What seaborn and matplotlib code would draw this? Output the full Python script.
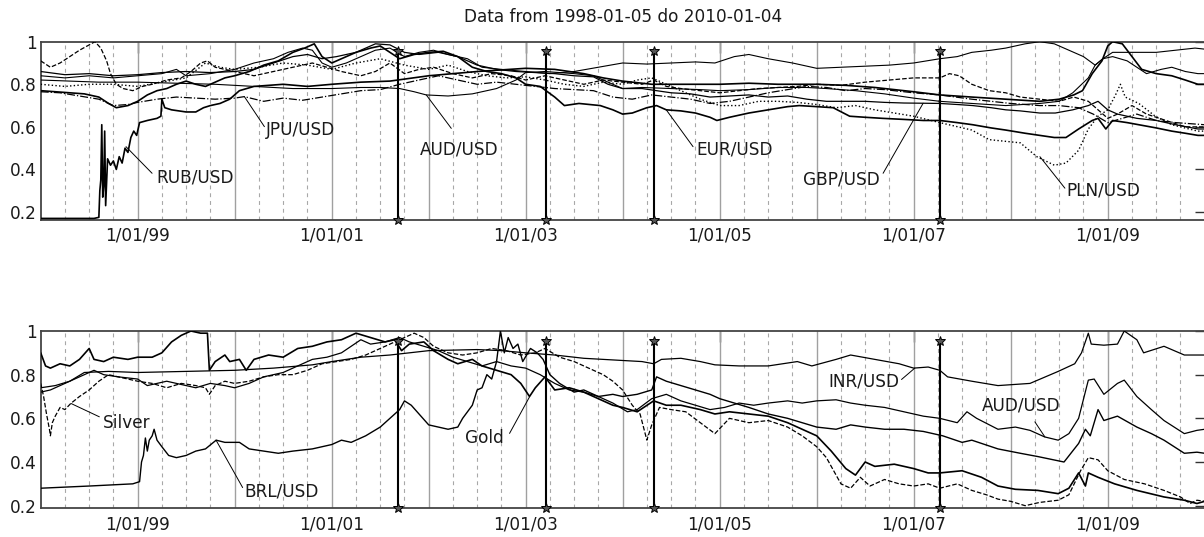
import numpy as np
import pandas as pd
import matplotlib
matplotlib.use("Agg")
import matplotlib.pyplot as plt
import seaborn as sns

sns.set_theme(style="white")
plt.rcParams["font.family"] = ["DejaVu Sans"]

# ---------------- data (decimal years, normalised values) ----------------
rub_t = [1998.0, 1998.55, 1998.6, 1998.61, 1998.62, 1998.63, 1998.64, 1998.65, 1998.66, 1998.67,
         1998.69, 1998.72, 1998.75, 1998.78, 1998.81, 1998.84, 1998.87, 1998.9, 1998.93, 1998.96,
         1998.99, 1999.02, 1999.1, 1999.2, 1999.24, 1999.25, 1999.28, 1999.35, 1999.5, 1999.6,
         1999.68, 1999.75, 1999.85, 1999.95, 2000.05, 2000.2, 2000.5, 2000.75, 2001.0, 2001.3,
         2001.6, 2002.0, 2002.5, 2003.0, 2003.3, 2003.6, 2003.8, 2004.0, 2004.3, 2004.6,
         2005.0, 2005.3, 2005.6, 2006.0, 2006.3, 2006.6, 2007.0, 2007.27, 2007.6, 2007.95,
         2008.3, 2008.5, 2008.65, 2008.74, 2008.84, 2008.94, 2009.0, 2009.05, 2009.15, 2009.25,
         2009.35, 2009.5, 2009.66, 2009.8, 2009.93, 2010.0]
rub_v = [0.17, 0.17, 0.175, 0.30, 0.35, 0.61, 0.27, 0.32, 0.58, 0.23,
         0.45, 0.42, 0.44, 0.40, 0.46, 0.43, 0.50, 0.48, 0.55, 0.58,
         0.56, 0.62, 0.63, 0.64, 0.65, 0.73, 0.69, 0.68, 0.67, 0.67,
         0.69, 0.70, 0.71, 0.73, 0.77, 0.79, 0.80, 0.79, 0.80, 0.81,
         0.815, 0.84, 0.86, 0.875, 0.87, 0.85, 0.83, 0.815, 0.80, 0.80,
         0.80, 0.805, 0.80, 0.80, 0.795, 0.785, 0.765, 0.75, 0.74, 0.73,
         0.72, 0.73, 0.75, 0.77, 0.85, 0.91, 0.98, 1.0, 0.99, 0.93,
         0.87, 0.85, 0.84, 0.82, 0.80, 0.80]

jpy_t = [1998.0, 1998.2, 1998.4, 1998.6, 1998.75, 1998.9, 1999.0, 1999.2, 1999.4, 1999.6,
         1999.8, 2000.0, 2000.1, 2000.3, 2000.5, 2000.7, 2000.9, 2001.1, 2001.3, 2001.5,
         2001.7, 2001.9, 2002.1, 2002.3, 2002.5, 2002.7, 2002.9, 2003.1, 2003.3, 2003.5,
         2003.7, 2003.9, 2004.1, 2004.3, 2004.5, 2004.7, 2004.9, 2005.1, 2005.3, 2005.5,
         2005.7, 2005.9, 2006.1, 2006.3, 2006.5, 2006.7, 2007.0, 2007.27, 2007.6, 2008.0,
         2008.3, 2008.5, 2008.7, 2008.85, 2009.0, 2009.15, 2009.3, 2009.5, 2009.7, 2010.0]
jpy_v = [0.765, 0.76, 0.745, 0.73, 0.70, 0.705, 0.715, 0.73, 0.74, 0.735,
         0.73, 0.735, 0.742, 0.72, 0.735, 0.725, 0.74, 0.755, 0.77, 0.775,
         0.80, 0.82, 0.84, 0.82, 0.80, 0.81, 0.80, 0.79, 0.78, 0.775,
         0.77, 0.74, 0.73, 0.75, 0.74, 0.73, 0.71, 0.72, 0.74, 0.76,
         0.775, 0.79, 0.785, 0.77, 0.78, 0.775, 0.76, 0.75, 0.73, 0.71,
         0.70, 0.70, 0.69, 0.66, 0.62, 0.64, 0.66, 0.63, 0.62, 0.61]

aud_t = [1998.0, 1998.3, 1998.6, 1999.0, 1999.4, 1999.8, 2000.2, 2000.6, 2001.0, 2001.3,
         2001.5, 2001.7, 2001.85, 2001.975, 2002.2, 2002.45, 2002.7, 2002.9, 2003.0, 2003.2,
         2003.5, 2003.7, 2003.85, 2004.0, 2004.2, 2004.5, 2004.8, 2005.0, 2005.3, 2005.6,
         2005.9, 2006.1, 2006.4, 2006.7, 2007.0, 2007.27, 2007.6, 2007.95, 2008.3, 2008.5,
         2008.64, 2008.8, 2008.87, 2008.95, 2009.05, 2009.2, 2009.4, 2009.55, 2009.66, 2009.8,
         2009.93, 2010.0]
aud_v = [0.82, 0.815, 0.81, 0.81, 0.805, 0.80, 0.79, 0.78, 0.78, 0.785,
         0.785, 0.78, 0.765, 0.75, 0.745, 0.755, 0.78, 0.82, 0.855, 0.86,
         0.85, 0.84, 0.81, 0.78, 0.785, 0.78, 0.775, 0.77, 0.775, 0.785,
         0.785, 0.78, 0.77, 0.755, 0.735, 0.72, 0.71, 0.70, 0.71, 0.72,
         0.76, 0.83, 0.89, 0.92, 0.93, 0.91, 0.85, 0.87, 0.88, 0.86,
         0.85, 0.85]

eur_t = [1998.0, 1998.15, 1998.3, 1998.45, 1998.6, 1998.7, 1998.78, 1998.9, 1999.0, 1999.1,
         1999.2, 1999.3, 1999.4, 1999.5, 1999.6, 1999.7, 1999.8, 1999.9, 2000.0, 2000.15,
         2000.3, 2000.45, 2000.6, 2000.72, 2000.82, 2000.9, 2001.0, 2001.1, 2001.25, 2001.4,
         2001.5, 2001.6, 2001.7, 2001.85, 2002.0, 2002.15, 2002.3, 2002.45, 2002.6, 2002.75,
         2002.9, 2003.0, 2003.15, 2003.3, 2003.4, 2003.55, 2003.77, 2003.9, 2004.0, 2004.1,
         2004.25, 2004.35, 2004.45, 2004.6, 2004.75, 2004.9, 2004.97, 2005.1, 2005.3, 2005.5,
         2005.7, 2005.82, 2006.0, 2006.17, 2006.34, 2006.5, 2006.68, 2006.9, 2007.1, 2007.27,
         2007.45, 2007.61, 2007.8, 2007.95, 2008.15, 2008.3, 2008.45, 2008.57, 2008.7, 2008.84,
         2008.9, 2008.98, 2009.05, 2009.2, 2009.32, 2009.5, 2009.66, 2009.8, 2009.93, 2010.0]
eur_v = [0.77, 0.765, 0.76, 0.755, 0.74, 0.71, 0.69, 0.70, 0.72, 0.75,
         0.77, 0.78, 0.80, 0.815, 0.80, 0.79, 0.81, 0.83, 0.84, 0.86,
         0.89, 0.91, 0.95, 0.97, 0.99, 0.93, 0.90, 0.92, 0.95, 0.97,
         0.98, 0.95, 0.92, 0.94, 0.95, 0.955, 0.93, 0.88, 0.86, 0.85,
         0.83, 0.80, 0.79, 0.74, 0.70, 0.71, 0.70, 0.68, 0.66, 0.665,
         0.69, 0.70, 0.68, 0.675, 0.665, 0.645, 0.63, 0.645, 0.665, 0.68,
         0.695, 0.70, 0.695, 0.69, 0.65, 0.645, 0.64, 0.635, 0.63, 0.63,
         0.62, 0.61, 0.595, 0.585, 0.57, 0.56, 0.55, 0.55, 0.59, 0.63,
         0.64, 0.59, 0.63, 0.62, 0.61, 0.595, 0.58, 0.57, 0.56, 0.56]

gbp_t = [1998.0, 1998.25, 1998.5, 1998.75, 1999.0, 1999.25, 1999.5, 1999.75, 2000.0, 2000.2,
         2000.4, 2000.6, 2000.75, 2000.9, 2001.05, 2001.25, 2001.45, 2001.6, 2001.75, 2001.9,
         2002.1, 2002.3, 2002.5, 2002.7, 2002.9, 2003.1, 2003.3, 2003.5, 2003.7, 2003.85,
         2004.0, 2004.2, 2004.35, 2004.5, 2004.7, 2004.9, 2005.1, 2005.3, 2005.5, 2005.7,
         2005.9, 2006.1, 2006.3, 2006.5, 2006.7, 2006.9, 2007.1, 2007.27, 2007.45, 2007.61,
         2007.8, 2007.95, 2008.1, 2008.3, 2008.46, 2008.64, 2008.8, 2008.9, 2009.0, 2009.1,
         2009.3, 2009.5, 2009.7, 2009.93, 2010.0]
gbp_v = [0.86, 0.845, 0.85, 0.84, 0.845, 0.855, 0.86, 0.855, 0.86, 0.87,
         0.90, 0.93, 0.94, 0.92, 0.93, 0.95, 0.99, 0.985, 0.95, 0.94,
         0.95, 0.93, 0.89, 0.87, 0.86, 0.855, 0.85, 0.84, 0.835, 0.80,
         0.78, 0.78, 0.77, 0.76, 0.755, 0.74, 0.745, 0.75, 0.74, 0.745,
         0.73, 0.72, 0.72, 0.72, 0.715, 0.712, 0.711, 0.71, 0.705, 0.70,
         0.69, 0.68, 0.675, 0.665, 0.665, 0.68, 0.70, 0.72, 0.68, 0.66,
         0.64, 0.63, 0.61, 0.59, 0.59]

pln_t = [1998.0, 1998.25, 1998.5, 1998.75, 1999.0, 1999.25, 1999.5, 1999.7, 1999.85, 2000.0,
         2000.25, 2000.5, 2000.75, 2001.0, 2001.25, 2001.5, 2001.75, 2002.0, 2002.2, 2002.4,
         2002.6, 2002.8, 2003.0, 2003.2, 2003.4, 2003.6, 2003.8, 2004.0, 2004.15, 2004.3,
         2004.45, 2004.6, 2004.8, 2005.0, 2005.2, 2005.4, 2005.6, 2005.8, 2006.0, 2006.2,
         2006.4, 2006.6, 2006.8, 2007.0, 2007.27, 2007.6, 2007.78, 2008.1, 2008.27, 2008.45,
         2008.57, 2008.7, 2008.8, 2008.9, 2009.0, 2009.08, 2009.13, 2009.18, 2009.32, 2009.49,
         2009.66, 2009.93, 2010.0]
pln_v = [0.80, 0.79, 0.80, 0.80, 0.79, 0.81, 0.83, 0.90, 0.88, 0.87,
         0.88, 0.90, 0.89, 0.87, 0.90, 0.92, 0.89, 0.87, 0.89, 0.86,
         0.84, 0.83, 0.835, 0.82, 0.80, 0.79, 0.81, 0.80, 0.82, 0.83,
         0.80, 0.77, 0.73, 0.70, 0.70, 0.72, 0.72, 0.715, 0.705, 0.69,
         0.70, 0.68, 0.665, 0.65, 0.62, 0.585, 0.54, 0.525, 0.46, 0.42,
         0.43, 0.49, 0.59, 0.65, 0.68, 0.75, 0.80, 0.74, 0.71, 0.65,
         0.61, 0.58, 0.58]

upper_t = [1998.0, 1998.25, 1998.5, 1998.75, 1999.0, 1999.25, 1999.4, 1999.5, 1999.75, 2000.0,
           2000.2, 2000.4, 2000.55, 2000.7, 2000.8, 2000.9, 2001.0, 2001.15, 2001.3, 2001.45,
           2001.6, 2001.75, 2001.9, 2002.05, 2002.2, 2002.4, 2002.55, 2002.75, 2003.0, 2003.25,
           2003.5, 2003.75, 2004.0, 2004.25, 2004.5, 2004.75, 2004.95, 2005.15, 2005.3, 2005.5,
           2005.75, 2006.0, 2006.25, 2006.5, 2006.75, 2007.0, 2007.27, 2007.45, 2007.6, 2007.8,
           2007.95, 2008.15, 2008.3, 2008.45, 2008.6, 2008.75, 2008.87, 2008.95, 2009.05, 2009.3,
           2009.5, 2009.7, 2009.9, 2010.0]
upper_v = [0.84, 0.83, 0.84, 0.83, 0.84, 0.85, 0.87, 0.84, 0.85, 0.87,
           0.90, 0.92, 0.95, 0.97, 0.96, 0.90, 0.88, 0.90, 0.93, 0.96,
           0.97, 0.93, 0.95, 0.96, 0.94, 0.92, 0.88, 0.87, 0.86, 0.85,
           0.86, 0.88, 0.90, 0.895, 0.90, 0.905, 0.90, 0.93, 0.94, 0.92,
           0.90, 0.875, 0.88, 0.885, 0.89, 0.90, 0.92, 0.93, 0.95, 0.96,
           0.97, 0.99, 1.0, 0.99, 0.96, 0.93, 0.89, 0.92, 0.95, 0.95,
           0.95, 0.96, 0.97, 0.965]

peak_t = [1998.0, 1998.1, 1998.2, 1998.3, 1998.4, 1998.5, 1998.56, 1998.62, 1998.68, 1998.72,
          1998.78, 1998.85, 1998.95, 1999.05, 1999.15, 1999.3, 1999.45, 1999.55, 1999.65, 1999.72,
          1999.8, 1999.9, 2000.0, 2000.2, 2000.4, 2000.6, 2000.8, 2000.95, 2001.1, 2001.3,
          2001.45, 2001.6, 2001.75, 2001.9, 2002.05, 2002.25, 2002.45, 2002.65, 2002.85, 2003.0,
          2003.2, 2003.4, 2003.6, 2003.8, 2004.0, 2004.2, 2004.32, 2004.45, 2004.6, 2004.8,
          2005.0, 2005.2, 2005.4, 2005.6, 2005.8, 2006.0, 2006.25, 2006.5, 2006.75, 2007.0,
          2007.27, 2007.37, 2007.47, 2007.6, 2007.78, 2007.95, 2008.1, 2008.3, 2008.5, 2008.65,
          2008.8, 2008.9, 2009.0, 2009.1, 2009.25, 2009.4, 2009.6, 2009.8, 2010.0]
peak_v = [0.91, 0.88, 0.90, 0.93, 0.96, 0.985, 1.0, 0.97, 0.91, 0.85,
          0.80, 0.78, 0.77, 0.79, 0.80, 0.82, 0.83, 0.86, 0.90, 0.91,
          0.88, 0.87, 0.86, 0.84, 0.86, 0.88, 0.90, 0.88, 0.86, 0.84,
          0.86, 0.90, 0.85, 0.87, 0.88, 0.85, 0.83, 0.85, 0.84, 0.82,
          0.84, 0.82, 0.80, 0.82, 0.81, 0.80, 0.82, 0.79, 0.78, 0.77,
          0.76, 0.77, 0.78, 0.785, 0.79, 0.80, 0.795, 0.81, 0.82, 0.83,
          0.83, 0.85, 0.84, 0.80, 0.77, 0.76, 0.74, 0.73, 0.72, 0.74,
          0.72, 0.68, 0.64, 0.66, 0.70, 0.66, 0.63, 0.60, 0.60]

inr_t = [1998.0, 1998.15, 1998.3, 1998.45, 1998.7, 1999.0, 1999.5, 2000.0, 2000.4, 2000.8,
         2001.0, 2001.3, 2001.6, 2001.8, 2002.0, 2002.5, 2002.75, 2003.0, 2003.3, 2003.6,
         2003.8, 2004.0, 2004.2, 2004.32, 2004.4, 2004.6, 2004.8, 2004.95, 2005.2, 2005.5,
         2005.8, 2005.95, 2006.2, 2006.35, 2006.6, 2006.85, 2007.0, 2007.15, 2007.27, 2007.35,
         2007.6, 2007.87, 2008.2, 2008.49, 2008.66, 2008.73, 2008.8, 2008.83, 2008.96, 2009.1,
         2009.17, 2009.3, 2009.37, 2009.58, 2009.79, 2009.92, 2010.0]
inr_v = [0.74, 0.75, 0.77, 0.81, 0.815, 0.81, 0.815, 0.82, 0.83, 0.845,
         0.86, 0.88, 0.89, 0.90, 0.91, 0.915, 0.91, 0.90, 0.89, 0.875,
         0.87, 0.865, 0.86, 0.85, 0.87, 0.875, 0.86, 0.845, 0.84, 0.84,
         0.86, 0.84, 0.87, 0.89, 0.87, 0.85, 0.83, 0.835, 0.82, 0.79,
         0.77, 0.75, 0.76, 0.815, 0.85, 0.90, 0.99, 0.94, 0.935, 0.94,
         1.0, 0.96, 0.90, 0.93, 0.89, 0.89, 0.89]

gold_t = [1998.0, 1998.05, 1998.1, 1998.2, 1998.3, 1998.4, 1998.5, 1998.55, 1998.65, 1998.75,
          1998.9, 1999.0, 1999.15, 1999.25, 1999.35, 1999.45, 1999.55, 1999.65, 1999.72, 1999.74,
          1999.8, 1999.9, 1999.95, 2000.05, 2000.12, 2000.2, 2000.35, 2000.5, 2000.65, 2000.8,
          2000.95, 2001.1, 2001.25, 2001.4, 2001.55, 2001.65, 2001.72, 2001.8, 2001.95, 2002.05,
          2002.2, 2002.3, 2002.45, 2002.55, 2002.7, 2002.85, 2002.95, 2003.04, 2003.1, 2003.2,
          2003.3, 2003.45, 2003.6, 2003.75, 2003.9, 2004.0, 2004.15, 2004.32, 2004.45, 2004.6,
          2004.8, 2004.95, 2005.1, 2005.3, 2005.5, 2005.7, 2005.85, 2006.0, 2006.15, 2006.3,
          2006.4, 2006.5, 2006.6, 2006.8, 2007.0, 2007.15, 2007.27, 2007.5, 2007.7, 2007.87,
          2008.05, 2008.28, 2008.49, 2008.6, 2008.7, 2008.77, 2008.8, 2008.9, 2009.07, 2009.3,
          2009.58, 2009.79, 2009.92, 2010.0]
gold_v = [0.90, 0.84, 0.83, 0.85, 0.84, 0.87, 0.92, 0.87, 0.86, 0.88,
          0.87, 0.88, 0.88, 0.90, 0.95, 0.98, 1.0, 0.99, 0.99, 0.82,
          0.86, 0.89, 0.86, 0.87, 0.82, 0.87, 0.89, 0.88, 0.92, 0.93,
          0.95, 0.96, 0.99, 0.97, 0.95, 0.96, 0.91, 0.94, 0.95, 0.91,
          0.87, 0.85, 0.87, 0.84, 0.82, 0.80, 0.76, 0.70, 0.74, 0.79,
          0.73, 0.74, 0.72, 0.69, 0.66, 0.65, 0.63, 0.68, 0.66, 0.66,
          0.64, 0.62, 0.63, 0.62, 0.61, 0.58, 0.55, 0.52, 0.45, 0.37,
          0.34, 0.40, 0.38, 0.39, 0.37, 0.35, 0.35, 0.36, 0.33, 0.29,
          0.275, 0.27, 0.255, 0.28, 0.35, 0.29, 0.35, 0.33, 0.30, 0.27,
          0.24, 0.225, 0.21, 0.22]

silver_t = [1998.0, 1998.03, 1998.06, 1998.09, 1998.1, 1998.12, 1998.15, 1998.2, 1998.25, 1998.31,
            1998.4, 1998.5, 1998.6, 1998.7, 1998.8, 1998.9, 1999.0, 1999.15, 1999.3, 1999.45,
            1999.6, 1999.7, 1999.74, 1999.8, 1999.9, 2000.0, 2000.15, 2000.3, 2000.45, 2000.6,
            2000.75, 2000.9, 2001.05, 2001.2, 2001.35, 2001.5, 2001.65, 2001.75, 2001.85, 2001.95,
            2002.05, 2002.2, 2002.35, 2002.5, 2002.65, 2002.8, 2002.95, 2003.1, 2003.2, 2003.35,
            2003.5, 2003.6, 2003.7, 2003.8, 2003.9, 2004.0, 2004.1, 2004.18, 2004.25, 2004.3,
            2004.38, 2004.5, 2004.65, 2004.8, 2004.95, 2005.1, 2005.3, 2005.5, 2005.7, 2005.85,
            2006.0, 2006.1, 2006.25, 2006.35, 2006.45, 2006.55, 2006.7, 2006.85, 2007.0, 2007.15,
            2007.27, 2007.45, 2007.6, 2007.75, 2007.87, 2008.0, 2008.15, 2008.3, 2008.49, 2008.6,
            2008.72, 2008.8, 2008.9, 2009.0, 2009.17, 2009.38, 2009.58, 2009.75, 2009.85, 2009.92,
            2010.0]
silver_v = [0.76, 0.70, 0.62, 0.55, 0.52, 0.58, 0.61, 0.65, 0.64, 0.668,
            0.70, 0.73, 0.77, 0.80, 0.79, 0.78, 0.77, 0.76, 0.74, 0.76,
            0.75, 0.74, 0.71, 0.75, 0.77, 0.76, 0.77, 0.79, 0.80, 0.80,
            0.82, 0.85, 0.86, 0.87, 0.89, 0.92, 0.95, 0.97, 0.99, 0.97,
            0.93, 0.90, 0.89, 0.90, 0.92, 0.91, 0.89, 0.90, 0.92, 0.88,
            0.86, 0.84, 0.82, 0.80, 0.77, 0.73, 0.66, 0.62, 0.50, 0.57,
            0.65, 0.64, 0.63, 0.58, 0.53, 0.60, 0.58, 0.59, 0.56, 0.52,
            0.47, 0.42, 0.30, 0.28, 0.33, 0.29, 0.32, 0.30, 0.29, 0.30,
            0.28, 0.30, 0.27, 0.25, 0.23, 0.22, 0.20, 0.215, 0.225, 0.25,
            0.36, 0.42, 0.41, 0.36, 0.32, 0.30, 0.27, 0.24, 0.21, 0.225,
            0.22]

brl_t = [1998.0, 1998.5, 1998.95, 1999.02, 1999.04, 1999.06, 1999.08, 1999.1, 1999.12, 1999.15,
         1999.17, 1999.2, 1999.25, 1999.32, 1999.4, 1999.5, 1999.6, 1999.7, 1999.81, 1999.9,
         2000.05, 2000.15, 2000.3, 2000.45, 2000.6, 2000.8, 2001.0, 2001.1, 2001.2, 2001.35,
         2001.5, 2001.6, 2001.7, 2001.75, 2001.82, 2001.9, 2002.0, 2002.1, 2002.2, 2002.3,
         2002.35, 2002.45, 2002.5, 2002.55, 2002.6, 2002.65, 2002.7, 2002.74, 2002.78, 2002.82,
         2002.87, 2002.92, 2002.97, 2003.05, 2003.12, 2003.18, 2003.25, 2003.35, 2003.5, 2003.6,
         2003.75, 2003.9, 2004.0, 2004.15, 2004.3, 2004.35, 2004.45, 2004.6, 2004.75, 2004.9,
         2005.0, 2005.15, 2005.3, 2005.5, 2005.7, 2005.85, 2006.0, 2006.2, 2006.35, 2006.5,
         2006.7, 2006.9, 2007.1, 2007.3, 2007.5, 2007.6, 2007.87, 2008.1, 2008.28, 2008.55,
         2008.7, 2008.77, 2008.82, 2008.9, 2008.96, 2009.1, 2009.3, 2009.45, 2009.58, 2009.79,
         2009.92, 2010.0]
brl_v = [0.28, 0.29, 0.30, 0.31, 0.40, 0.43, 0.51, 0.45, 0.50, 0.52,
         0.55, 0.50, 0.47, 0.43, 0.42, 0.43, 0.45, 0.46, 0.50, 0.49,
         0.49, 0.46, 0.45, 0.44, 0.45, 0.46, 0.48, 0.50, 0.49, 0.52,
         0.56, 0.60, 0.64, 0.68, 0.66, 0.62, 0.57, 0.56, 0.55, 0.56,
         0.60, 0.66, 0.73, 0.74, 0.80, 0.78, 0.86, 1.0, 0.90, 0.97,
         0.92, 0.94, 0.86, 0.92, 0.90, 0.87, 0.80, 0.76, 0.72, 0.73,
         0.70, 0.71, 0.70, 0.71, 0.73, 0.79, 0.77, 0.75, 0.73, 0.71,
         0.69, 0.67, 0.65, 0.62, 0.60, 0.58, 0.56, 0.55, 0.57, 0.56,
         0.55, 0.55, 0.54, 0.52, 0.49, 0.50, 0.46, 0.44, 0.425, 0.40,
         0.485, 0.55, 0.52, 0.64, 0.59, 0.61, 0.56, 0.53, 0.50, 0.44,
         0.445, 0.44]

audb_t = [1998.0, 1998.1, 1998.25, 1998.4, 1998.55, 1998.65, 1998.8, 1999.0, 1999.1, 1999.3,
          1999.5, 1999.6, 1999.75, 1999.9, 2000.0, 2000.15, 2000.3, 2000.5, 2000.65, 2000.8,
          2000.95, 2001.1, 2001.3, 2001.4, 2001.55, 2001.7, 2001.8, 2001.95, 2002.1, 2002.25,
          2002.4, 2002.55, 2002.7, 2002.85, 2003.0, 2003.15, 2003.3, 2003.45, 2003.6, 2003.75,
          2003.9, 2004.05, 2004.15, 2004.3, 2004.45, 2004.6, 2004.75, 2004.9, 2005.05, 2005.2,
          2005.35, 2005.5, 2005.7, 2005.85, 2006.0, 2006.2, 2006.35, 2006.5, 2006.7, 2006.9,
          2007.1, 2007.27, 2007.45, 2007.55, 2007.65, 2007.87, 2008.05, 2008.2, 2008.35, 2008.49,
          2008.6, 2008.7, 2008.8, 2008.86, 2008.96, 2009.1, 2009.17, 2009.3, 2009.45, 2009.58,
          2009.79, 2009.92, 2010.0]
audb_v = [0.72, 0.73, 0.76, 0.79, 0.82, 0.80, 0.79, 0.78, 0.75, 0.77,
          0.75, 0.74, 0.76, 0.75, 0.74, 0.76, 0.79, 0.81, 0.84, 0.87,
          0.88, 0.90, 0.96, 0.94, 0.95, 0.97, 0.95, 0.93, 0.91, 0.88,
          0.86, 0.84, 0.86, 0.84, 0.83, 0.80, 0.76, 0.73, 0.72, 0.70,
          0.67, 0.63, 0.64, 0.69, 0.71, 0.68, 0.66, 0.64, 0.65, 0.67,
          0.66, 0.67, 0.68, 0.67, 0.68, 0.685, 0.67, 0.66, 0.65, 0.63,
          0.61, 0.60, 0.58, 0.63, 0.60, 0.55, 0.56, 0.545, 0.515, 0.50,
          0.53, 0.60, 0.775, 0.78, 0.71, 0.76, 0.775, 0.70, 0.64, 0.59,
          0.53, 0.545, 0.55]

event_t = [2001.688, 2003.213, 2004.32, 2007.277]
event_top = 0.955

year_ticks = [1999, 2001, 2003, 2005, 2007, 2009]
year_labels = ["1/01/99", "1/01/01", "1/01/03", "1/01/05", "1/01/07", "1/01/09"]
y_ticks = [0.2, 0.4, 0.6, 0.8, 1.0]
y_labels = ["0.2", "0.4", "0.6", "0.8", "1"]
title_text = "Data from 1998-01-05 do 2010-01-04"

# label text, text anchor (year, value), leader from (year, value) to (year, value)
top_labels = [
    ("RUB/USD", 1999.193, 0.360, "left", (1999.149, 0.382), (1998.880, 0.507)),
    ("JPU/USD", 2000.325, 0.583, "left", (2000.307, 0.601), (2000.101, 0.742)),
    ("AUD/USD", 2001.913, 0.492, "left", (2002.233, 0.593), (2001.975, 0.750)),
    ("EUR/USD", 2004.760, 0.492, "left", (2004.725, 0.507), (2004.451, 0.679)),
    ("GBP/USD", 2006.651, 0.354, "right", (2006.685, 0.382), (2007.098, 0.711)),
    ("PLN/USD", 2008.577, 0.300, "left", (2008.559, 0.312), (2008.302, 0.460)),
]
bottom_labels = [
    ("Silver", 1998.639, 0.578, "left", (1998.605, 0.607), (1998.313, 0.668)),
    ("BRL/USD", 2000.101, 0.263, "left", (2000.083, 0.283), (1999.809, 0.500)),
    ("Gold", 2002.370, 0.511, "left", (2002.834, 0.531), (2003.041, 0.699)),
    ("INR/USD", 2006.857, 0.770, "right", (2006.875, 0.778), (2007.012, 0.830)),
    ("AUD/USD", 2007.700, 0.657, "left", (2008.250, 0.584), (2008.353, 0.515)),
]


def to_dates(years):
    years = np.atleast_1d(np.asarray(years, dtype=float))
    whole = np.floor(years).astype(int)
    start = pd.to_datetime([f"{y}-01-01" for y in whole])
    ndays = np.array([366 if (y % 4 == 0 and (y % 100 != 0 or y % 400 == 0)) else 365
                      for y in whole])
    return start + pd.to_timedelta((years - whole) * ndays, unit="D")


def draw_series(ax, t, v, lw, ls):
    sns.lineplot(x=to_dates(t), y=v, ax=ax, color="black", linewidth=lw,
                 linestyle=ls, estimator=None, sort=False, legend=False, zorder=3)


def style_axes(ax, ymin):
    x0, x1 = pd.Timestamp("1998-01-01"), pd.Timestamp("2010-01-04")
    ax.set_xlim(x0, x1)
    ax.set_ylim(ymin, 1.0)
    # quarterly grid: solid at year starts, dashed otherwise
    for q in pd.date_range("1998-04-01", "2009-10-01", freq="QS"):
        if q.month == 1:
            ax.axvline(q, color="#a0a0a0", lw=1.0, zorder=1)
        else:
            ax.axvline(q, color="#a8a8a8", lw=0.8, ls=(0, (3.5, 3.5)), zorder=1)
    ax.set_xticks(to_dates(year_ticks))
    ax.set_xticklabels(year_labels)
    ax.set_yticks(y_ticks)
    ax.set_yticklabels(y_labels)
    ax.set_xlabel("")
    ax.set_ylabel("")
    ax.tick_params(axis="both", direction="in", length=8, width=1.0, color="#333333",
                   labelsize=12.2, labelcolor="#1a1a1a", top=True, right=True)
    ax.tick_params(axis="x", pad=5)
    ax.tick_params(axis="y", pad=3)
    for s in ax.spines.values():
        s.set_color("#444444")
        s.set_linewidth(1.3)
    # event markers
    for e in event_t:
        d = to_dates([e])[0]
        ax.plot([d, d], [ymin, event_top], color="black", lw=1.5, zorder=5,
                marker="*", ms=7.5, mfc="#555555", mec="black", mew=0.7, clip_on=False)


def add_labels(ax, labels):
    for text, tx, ty, ha, p0, p1 in labels:
        ax.text(to_dates([tx])[0], ty, text, ha=ha, va="center", fontsize=12.2,
                color="#1a1a1a", zorder=6)
        ax.plot(to_dates([p0[0], p1[0]]), [p0[1], p1[1]], color="black", lw=0.7, zorder=6)


W, H = 1204, 537
fig = plt.figure(figsize=(W / 100, H / 100), dpi=100)
left = 40.7 / W
width = (1205.5 - 40.7) / W
ax_top = fig.add_axes([left, (H - 219.7) / H, width, 178.0 / H])
ax_bot = fig.add_axes([left, (H - 508.3) / H, width, 177.3 / H])

draw_series(ax_top, upper_t, upper_v, 0.8, "-")
draw_series(ax_top, peak_t, peak_v, 0.9, "--")
draw_series(ax_top, gbp_t, gbp_v, 0.9, "-")
draw_series(ax_top, aud_t, aud_v, 0.8, "-")
draw_series(ax_top, jpy_t, jpy_v, 0.9, "-.")
draw_series(ax_top, pln_t, pln_v, 1.0, ":")
draw_series(ax_top, eur_t, eur_v, 1.2, "-")
draw_series(ax_top, rub_t, rub_v, 1.2, "-")

draw_series(ax_bot, inr_t, inr_v, 0.9, "-")
draw_series(ax_bot, audb_t, audb_v, 0.9, "-")
draw_series(ax_bot, silver_t, silver_v, 0.9, "--")
draw_series(ax_bot, gold_t, gold_v, 1.2, "-")
draw_series(ax_bot, brl_t, brl_v, 1.0, "-")

# axis styling after the series so seaborn's automatic axis labels are cleared
style_axes(ax_top, 0.164)
style_axes(ax_bot, 0.188)

add_labels(ax_top, top_labels)
add_labels(ax_bot, bottom_labels)

ax_top.set_title(title_text, fontsize=12.2, color="#1a1a1a", pad=14)

fig.savefig("out.png", dpi=100)
